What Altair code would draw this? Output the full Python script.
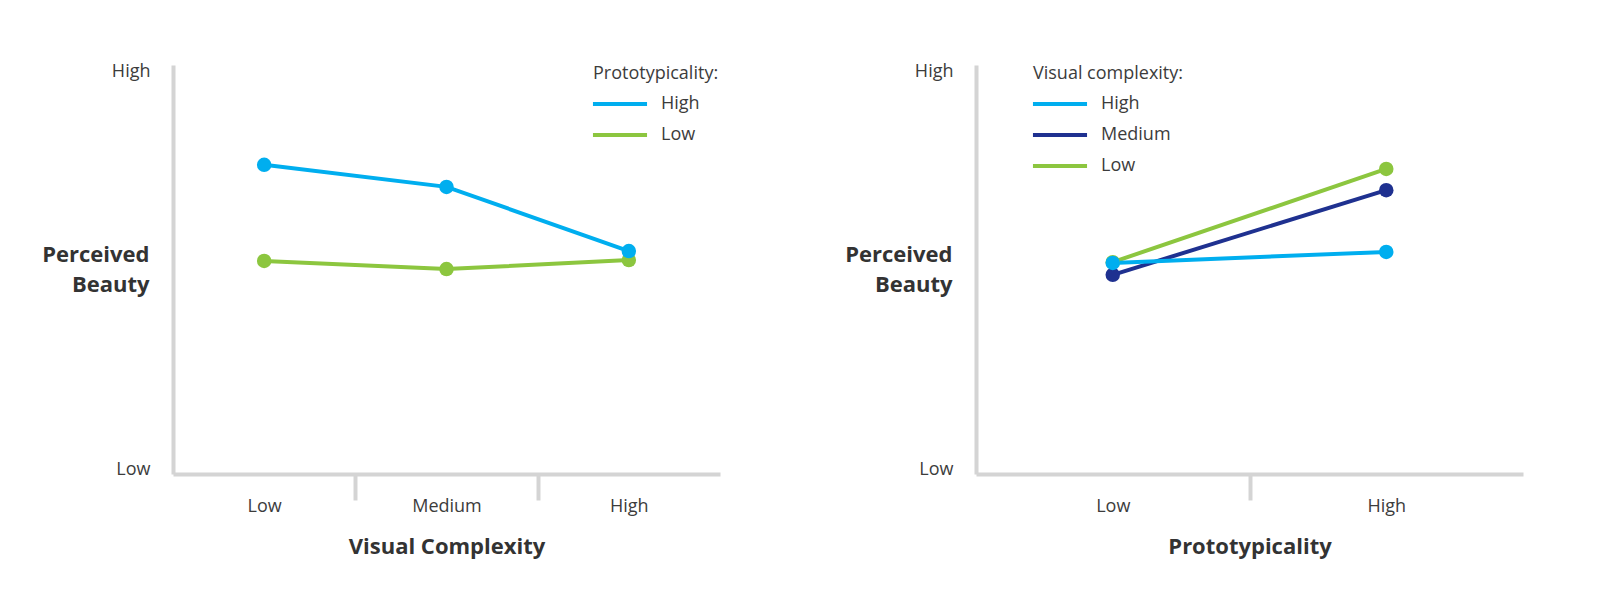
import altair as alt
import pandas as pd

# Left panel: perceived beauty by visual complexity, one line per prototypicality level
vc_levels = ["Low", "Medium", "High"]
proto_high = [7.56, 7.02, 5.45]
proto_low = [5.21, 5.01, 5.23]

# Right panel: perceived beauty by prototypicality, one line per visual complexity level
proto_levels = ["Low", "High"]
vc_high = [5.16, 5.43]
vc_medium = [4.87, 6.94]
vc_low = [5.18, 7.46]

# y axis only shows the two ends
y_label_values = [0.1, 9.83]
y_label_names = ["Low", "High"]

light_blue = "#00aeef"
green = "#8cc63f"
navy = "#1f3190"
axis_grey = "#d4d4d4"
text_grey = "#3c3c3c"

# wide flat legend swatch: 10 units long, scaled by sqrt(size)/2
swatch = "M-5,0H5"
swatch_size = 117  # -> ~54px line


def make_frame(levels, series):
    rows = []
    for name, vals in series:
        for i, (lv, v) in enumerate(zip(levels, vals)):
            rows.append({"level": lv, "pos": i + 0.5, "beauty": v, "series": name})
    return pd.DataFrame(rows)


def panel(df, levels, x_title, legend_title, order, colors, legend_x):
    n = len(levels)
    label_expr = " : ".join(
        f"datum.value == {i + 0.5} ? '{lv}'" for i, lv in enumerate(levels)
    ) + " : ''"
    y_expr = f"datum.value > 5 ? '{y_label_names[1]}' : '{y_label_names[0]}'"

    x = alt.X(
        "pos:Q",
        scale=alt.Scale(domain=[0, n], nice=False, zero=False),
        axis=alt.Axis(
            values=[k * 0.5 for k in range(1, 2 * n)],
            labelExpr=label_expr,
            title=x_title,
            titleFontSize=22,
            titleFontWeight="bold",
            titleY=72,
            titleBaseline="middle",
            tickSize=26,
            tickWidth=4,
            tickColor=axis_grey,
            tickOpacity={"condition": {"test": "datum.value % 1 == 0", "value": 1}, "value": 0},
            labelBaseline="middle",
            labelPadding=6,
        ),
    )
    y = alt.Y(
        "beauty:Q",
        scale=alt.Scale(domain=[0, 10], nice=False, zero=False),
        axis=alt.Axis(
            values=y_label_values,
            labelExpr=y_expr,
            title=["Perceived", "Beauty"],
            titleAngle=0,
            titleAlign="right",
            titleBaseline="middle",
            titleX=-24,
            titleY=189,
            titleLineHeight=30,
            titleFontSize=22,
            titleFontWeight="bold",
            ticks=False,
            tickSize=0,
            labelPadding=23,
        ),
    )
    color_scale = alt.Scale(domain=order, range=colors)
    base = alt.Chart(df).encode(x=x, y=y, detail="series:N")

    lines = base.mark_line(strokeWidth=4).encode(
        color=alt.Color(
            "series:N",
            scale=color_scale,
            sort=order,
            legend=alt.Legend(
                title=legend_title,
                orient="none",
                legendX=legend_x,
                legendY=0,
                symbolType=swatch,
                symbolStrokeWidth=4,
                symbolSize=swatch_size,
                symbolOffset=18,
                labelOffset=32,
                rowPadding=13,
                titlePadding=12,
            ),
        )
    )
    points = base.mark_point(filled=True, size=210, opacity=1).encode(
        color=alt.Color("series:N", scale=color_scale, legend=None)
    )
    return (lines + points).properties(width=547, height=409)


left_df = make_frame(vc_levels, [("Low", proto_low), ("High", proto_high)])
right_df = make_frame(
    proto_levels, [("Low", vc_low), ("Medium", vc_medium), ("High", vc_high)]
)

left = panel(left_df, vc_levels, "Visual Complexity", "Prototypicality:",
             ["High", "Low"], [light_blue, green], 420)
right = panel(right_df, proto_levels, "Prototypicality", "Visual complexity:",
              ["High", "Medium", "Low"], [light_blue, navy, green], 57)

chart = alt.hconcat(left, right, spacing=124).resolve_scale(
    color="independent"
).resolve_legend(
    color="independent"
).properties(
    padding={"left": 33, "top": 54, "right": 10, "bottom": 10}
).configure(
    font="Open Sans",
).configure_view(
    stroke=None
).configure_axis(
    grid=False,
    domainColor=axis_grey,
    domainWidth=4,
    labelFont="Open Sans",
    labelFontSize=18,
    labelColor=text_grey,
    titleFont="Open Sans",
    titleColor="#333333",
).configure_legend(
    titleFont="Open Sans",
    titleFontSize=18,
    titleFontWeight="normal",
    titleColor=text_grey,
    labelFont="Open Sans",
    labelFontSize=18,
    labelColor=text_grey,
)

chart.save("out.html", embed_options={"renderer": "svg", "actions": False})
